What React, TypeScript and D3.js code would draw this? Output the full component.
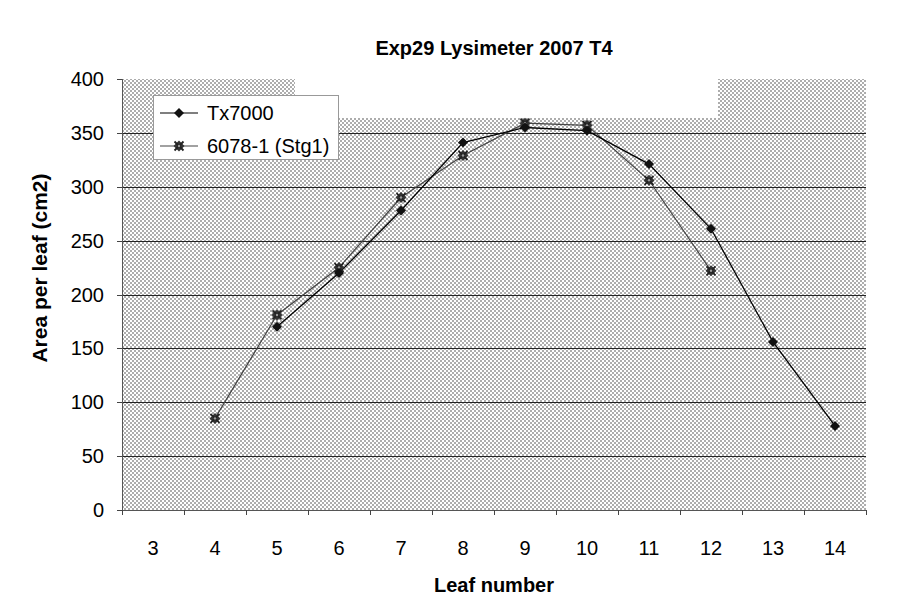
import React from "react";
import * as d3 from "d3";

const categories = [3, 4, 5, 6, 7, 8, 9, 10, 11, 12, 13, 14];
const tx7000 = [null, null, 170, 220, 278, 341, 355, 352, 321, 261, 156, 78];
const stg1 = [null, 85, 181, 225, 290, 329, 359, 357, 306, 222, null, null];
const yTicks = [0, 50, 100, 150, 200, 250, 300, 350, 400];
const seriesNames = ["Tx7000", "6078-1 (Stg1)"];

const W = 922, H = 606;
const L = 122, R = 866, T = 79, B = 510;
const FONT = "Liberation Sans, Arial, sans-serif";

export default function App() {
  const x = d3.scaleBand<number>().domain(categories).range([L, R]).paddingInner(0).paddingOuter(0);
  const y = d3.scaleLinear().domain([0, 400]).range([B, T]);
  const cx = (c: number) => (x(c) as number) + x.bandwidth() / 2;

  const line = d3.line<[number, number | null]>()
    .defined(d => d[1] != null)
    .x(d => cx(d[0]))
    .y(d => y(d[1] as number));

  const d1 = categories.map((c, i) => [c, tx7000[i]] as [number, number | null]);
  const d2 = categories.map((c, i) => [c, stg1[i]] as [number, number | null]);

  const diamond = (px: number, py: number, k: string) => (
    <path key={k} d={`M${px},${py - 5}L${px + 5},${py}L${px},${py + 5}L${px - 5},${py}Z`} fill="#111" />
  );
  const xmark = (px: number, py: number, k: string) => (
    <g key={k}>
      <path d={`M${px},${py - 5.5}L${px + 5.5},${py}L${px},${py + 5.5}L${px - 5.5},${py}Z`} fill="#333" />
      <path d={`M${px - 4.5},${py - 4.5}L${px + 4.5},${py + 4.5}M${px + 4.5},${py - 4.5}L${px - 4.5},${py + 4.5}`} stroke="#222" strokeWidth={1.8} />
      <circle cx={px} cy={py} r={1.2} fill="#999" />
    </g>
  );

  return (
    <div style={{ margin: -8 }}>
      <svg width={W} height={H} style={{ display: "block", background: "#fff" }}>
        <defs>
          <pattern id="dots" patternUnits="userSpaceOnUse" width={4} height={4} x={0} y={0}>
            <rect width={4} height={4} fill="#fff" />
            <circle cx={1} cy={1} r={0.8} fill="#444" />
            <circle cx={3} cy={3} r={0.8} fill="#444" />
          </pattern>
        </defs>
        <rect x={7.5} y={3.5} width={910} height={599} fill="#fff" stroke="#aaa" strokeWidth={1} />
        <text x={494} y={55} textAnchor="middle" fontFamily={FONT} fontWeight="bold" fontSize={20}>Exp29 Lysimeter 2007 T4</text>

        <rect x={L} y={T} width={R - L} height={B - T} fill="url(#dots)" />
        <rect x={295} y={T - 2} width={423} height={118 - T + 2} fill="#fff" />

        {yTicks.filter(v => v > 0 && v < 400).map(v => (
          <line key={v} x1={L} x2={R} y1={Math.round(y(v)) + 0.5} y2={Math.round(y(v)) + 0.5} stroke="#222" strokeWidth={1} />
        ))}
        <line x1={L + 0.5} x2={L + 0.5} y1={T} y2={B} stroke="#555" strokeWidth={1} />
        <line x1={L} x2={R} y1={B + 0.5} y2={B + 0.5} stroke="#555" strokeWidth={1} />
        {yTicks.map(v => (
          <g key={v}>
            <line x1={L - 5} x2={L} y1={Math.round(y(v)) + 0.5} y2={Math.round(y(v)) + 0.5} stroke="#444" />
            <text x={104} y={y(v) + 7} textAnchor="end" fontFamily={FONT} fontSize={20}>{v}</text>
          </g>
        ))}
        {[...categories, 15].map((c, i) => {
          const px = Math.round(L + i * x.bandwidth()) + 0.5;
          return <line key={c} x1={px} x2={px} y1={B} y2={B + 5} stroke="#444" />;
        })}
        {categories.map(c => (
          <text key={c} x={cx(c)} y={555} textAnchor="middle" fontFamily={FONT} fontSize={20}>{c}</text>
        ))}
        <text x={494} y={592} textAnchor="middle" fontFamily={FONT} fontWeight="bold" fontSize={20}>Leaf number</text>
        <text transform={`translate(47,268) rotate(-90)`} textAnchor="middle" fontFamily={FONT} fontWeight="bold" fontSize={21}>Area per leaf (cm2)</text>

        <path d={line(d2) as string} fill="none" stroke="#444" strokeWidth={1.2} />
        <path d={line(d1) as string} fill="none" stroke="#000" strokeWidth={1.3} />
        {d2.filter(d => d[1] != null).map(d => xmark(cx(d[0]), y(d[1] as number), "b" + d[0]))}
        {d1.filter(d => d[1] != null).map(d => diamond(cx(d[0]), y(d[1] as number), "a" + d[0]))}

        <rect x={153.5} y={95.5} width={185} height={64} fill="#fff" stroke="#999" strokeWidth={1} />
        <line x1={160} x2={198} y1={113} y2={113} stroke="#000" strokeWidth={1.2} />
        {diamond(179, 113, "la")}
        <text x={207} y={120} fontFamily={FONT} fontSize={20}>{seriesNames[0]}</text>
        <line x1={160} x2={198} y1={146} y2={146} stroke="#444" strokeWidth={1.2} />
        {xmark(179, 146, "lb")}
        <text x={207} y={153} fontFamily={FONT} fontSize={20}>{seriesNames[1]}</text>
      </svg>
    </div>
  );
}
